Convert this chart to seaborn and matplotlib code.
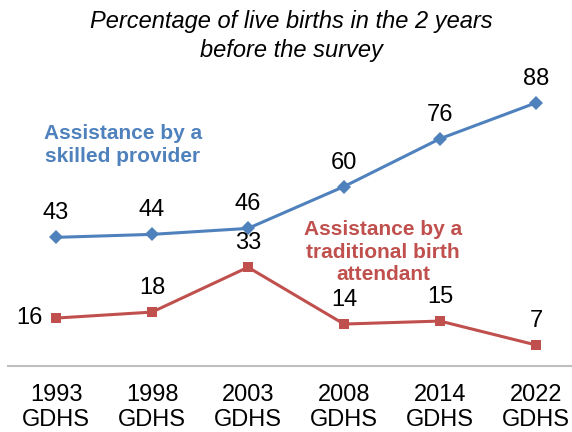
import numpy as np
import pandas as pd
import matplotlib.pyplot as plt
import seaborn as sns

# data
surveys = ['1993\nGDHS', '1998\nGDHS', '2003\nGDHS', '2008\nGDHS', '2014\nGDHS', '2022\nGDHS']
skilled = [43, 44, 46, 60, 76, 88]
traditional = [16, 18, 33, 14, 15, 7]

blue = '#4F81BD'
red = '#C0504D'

sns.set_style('white')
plt.rcParams['font.family'] = ['Liberation Sans', 'DejaVu Sans']
plt.rcParams['text.color'] = 'black'
plt.rcParams['xtick.color'] = 'black'

df = pd.DataFrame({
    'pos': list(range(len(surveys))) * 2,
    'value': skilled + traditional,
    'series': ['skilled'] * len(surveys) + ['traditional'] * len(surveys),
})

fig = plt.figure(figsize=(5.72, 4.32), dpi=100)
ax = fig.add_axes([0.014, 0.153, 0.986, 0.692])

sns.lineplot(data=df, x='pos', y='value', hue='series', style='series',
             palette={'skilled': blue, 'traditional': red},
             markers={'skilled': 'D', 'traditional': 's'}, dashes=False,
             markersize=7, linewidth=2.2, markeredgewidth=0, legend=False, ax=ax)

# data labels
for i, v in enumerate(skilled):
    ax.annotate(str(v), (i, v), xytext=(0, 24), textcoords='offset pixels',
                ha='center', va='center', fontsize=17, color='black')
for i, v in enumerate(traditional):
    off = (-27, 0) if i == 0 else (0, 24)
    ax.annotate(str(v), (i, v), xytext=off, textcoords='offset pixels',
                ha='center', va='center', fontsize=17, color='black')

# series labels
fig.text(123 / 572, 1 - 145 / 432, 'Assistance by a\nskilled provider', color=blue,
         fontsize=15, fontweight='bold', ha='center', va='center', linespacing=1.3)
fig.text(383 / 572, 1 - 252 / 432, 'Assistance by a\ntraditional birth\nattendant', color=red,
         fontsize=15, fontweight='bold', ha='center', va='center', linespacing=1.25)

# title
fig.text(291 / 572, 1 - 36 / 432, 'Percentage of live births in the 2 years\nbefore the survey',
         fontsize=17, fontstyle='italic', ha='center', va='center', linespacing=1.29,
         color='black')

ax.set_xlim(-0.5, 5.375)
ax.set_ylim(0, 100)
ax.set_xticks(range(len(surveys)))
ax.set_xticklabels(surveys, fontsize=17, linespacing=1.15, color='black')
ax.tick_params(axis='x', length=0, pad=13)
ax.set_yticks([])
ax.set_xlabel('')
ax.set_ylabel('')
for s in ['top', 'right', 'left']:
    ax.spines[s].set_visible(False)
ax.spines['bottom'].set_color('#BFBFBF')
ax.spines['bottom'].set_linewidth(1.5)

fig.savefig('out.png', dpi=100)
